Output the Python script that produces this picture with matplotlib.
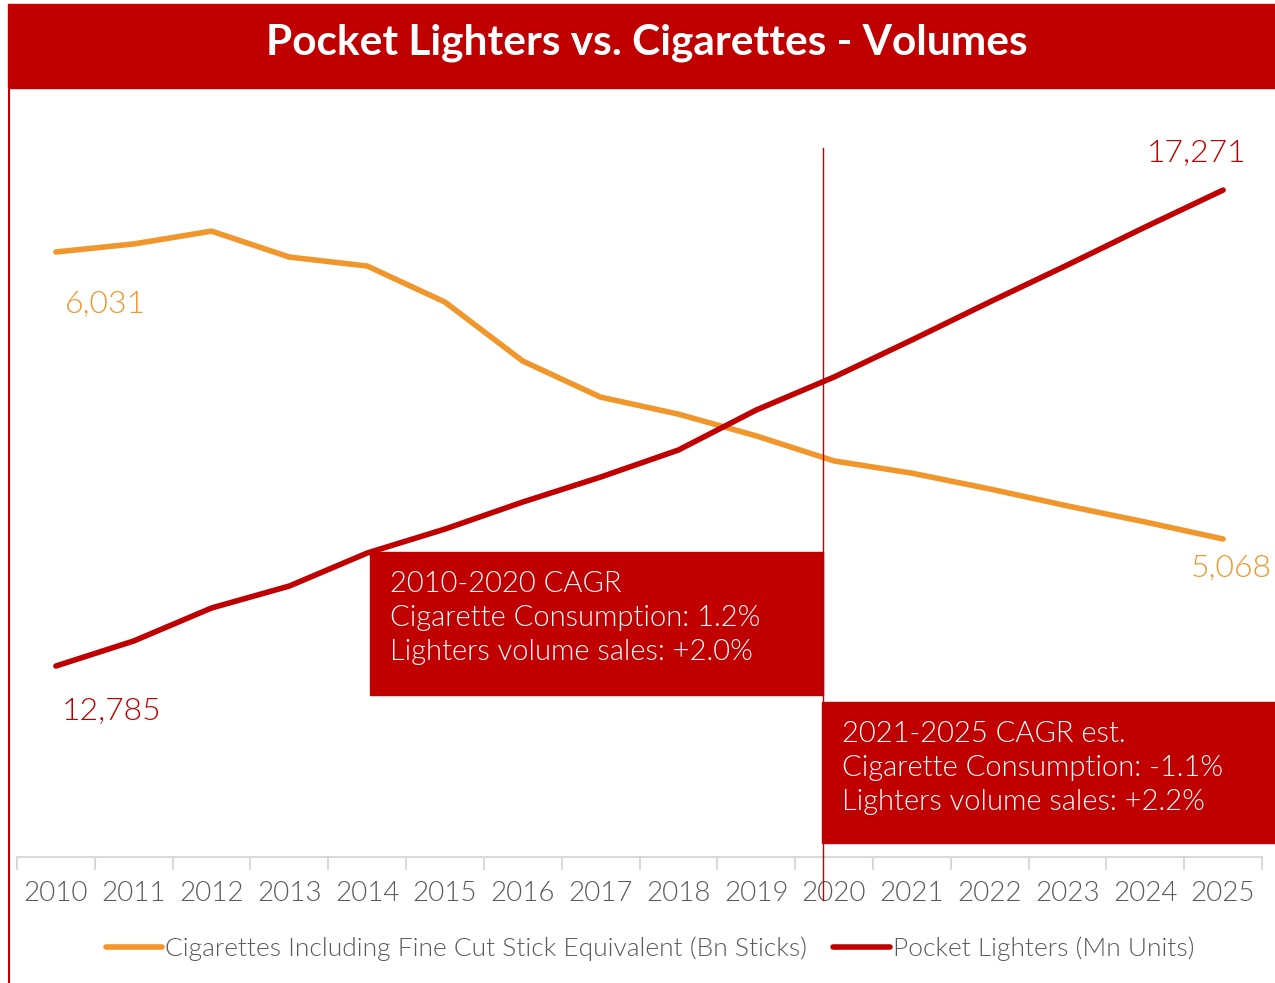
import matplotlib.pyplot as plt
from matplotlib.patches import Rectangle
from matplotlib.lines import Line2D

plt.rcParams['font.family'] = ['Lato', 'DejaVu Sans']
plt.rcParams['font.weight'] = 300

RED = '#C00000'
ORANGE = '#F0962A'
GREY = '#595959'

years = [str(y) for y in range(2010, 2026)]
cigarettes = [6031, 6058, 6101, 6014, 5984, 5863, 5665, 5544, 5487, 5414,
              5330, 5289, 5236, 5179, 5125, 5068]
lighters = [12785, 13021, 13332, 13539, 13850, 14076, 14331, 14566, 14821,
            15198, 15509, 15858, 16216, 16565, 16923, 17271]

box_texts = [
    "2010-2020 CAGR\nCigarette Consumption: 1.2%\nLighters volume sales: +2.0%",
    "2021-2025 CAGR est.\nCigarette Consumption: -1.1%\nLighters volume sales: +2.2%",
]

W, H = 1275, 983
fig = plt.figure(figsize=(W / 100, H / 100), dpi=100)


def px(x0, y0, x1, y1):
    # pixel box (top-left origin) -> figure fraction rect
    return [x0 / W, 1 - y1 / H, (x1 - x0) / W, (y1 - y0) / H]


ax = fig.add_axes(px(17, 100, 1262, 857))
ax2 = ax.twinx()
x = list(range(len(years)))

ax.plot(x, cigarettes, color=ORANGE, lw=4, solid_capstyle='round',
        label='Cigarettes Including Fine Cut Stick Equivalent (Bn Sticks)')
ax2.plot(x, lighters, color=RED, lw=4, solid_capstyle='round',
         label='Pocket Lighters (Mn Units)')

ax.set_xlim(-0.5, len(years) - 0.5)
ax.set_ylim(4001, 6541)
ax2.set_ylim(10985, 18120)

for a in (ax, ax2):
    for s in a.spines.values():
        s.set_visible(False)
    a.set_yticks([])
ax.spines['bottom'].set_visible(True)
ax.spines['bottom'].set_color('#D9D9D9')
ax.spines['bottom'].set_linewidth(1.5)
ax.set_xticks(x)
ax.set_xticklabels(years, fontsize=20, color=GREY)
ax.set_xticks([i - 0.5 for i in range(len(years) + 1)], minor=True)
ax.tick_params(axis='x', which='major', length=0, pad=17)
ax.tick_params(axis='x', which='minor', length=9, width=1.5, color='#D9D9D9')

# end-point value labels
lab = dict(textcoords='offset pixels', ha='center', va='center', fontsize=23)
ax.annotate(f"{cigarettes[0]:,}", (0, cigarettes[0]), xytext=(50, -52),
            color=ORANGE, **lab)
ax.annotate(f"{cigarettes[-1]:,}", (15, cigarettes[-1]), xytext=(8, -29),
            color=ORANGE, **lab)
ax2.annotate(f"{lighters[0]:,}", (0, lighters[0]), xytext=(56, -45),
             color=RED, **lab)
ax2.annotate(f"{lighters[-1]:,}", (15, lighters[-1]), xytext=(-27, 38),
             color=RED, **lab)

leg = fig.legend(handles=[ax.lines[0], ax2.lines[0]], loc='center',
                 bbox_to_anchor=(650 / W, 1 - 949 / H), ncol=2, frameon=False,
                 handlelength=2.15, handletextpad=0.1, columnspacing=1.0,
                 prop={'size': 19, 'weight': 300})
for t in leg.get_texts():
    t.set_color(GREY)

# title banner and left border
fig.patches.append(Rectangle((8 / W, 1 - 88 / H), (W - 8) / W, 84 / H,
                             transform=fig.transFigure, color=RED, zorder=0))
fig.text(647 / W, 1 - 43 / H, "Pocket Lighters vs. Cigarettes - Volumes",
         ha='center', va='center', color='white', fontsize=30.5,
         fontweight='bold')
fig.lines.append(Line2D([8.5 / W, 8.5 / W], [0, 1 - 88 / H],
                        transform=fig.transFigure, color=RED, lw=1.5))

# divider between periods
fig.lines.append(Line2D([823 / W, 823 / W], [1 - 900 / H, 1 - 148 / H],
                        transform=fig.transFigure, color=RED, lw=1.0,
                        zorder=5))

# CAGR boxes
for (x0, y0, x1, y1), txt in zip([(370, 552, 823, 695), (822, 702, 1275, 843)],
                                 box_texts):
    fig.patches.append(Rectangle((x0 / W, 1 - y1 / H), (x1 - x0) / W,
                                 (y1 - y0) / H, transform=fig.transFigure,
                                 color=RED, zorder=3))
    fig.text((x0 + 20) / W, 1 - (y0 + 19) / H, txt, ha='left', va='top',
             color='white', fontsize=21, linespacing=1.38, zorder=4)

fig.savefig('out.png', dpi=100)
